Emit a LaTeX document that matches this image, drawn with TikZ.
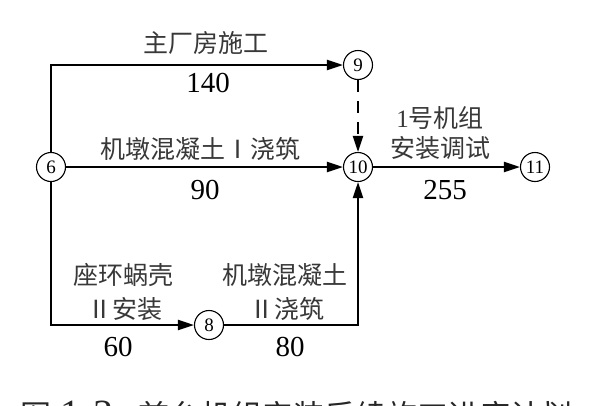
\documentclass[tikz,border=0pt]{standalone}
\usepackage{fontspec}
\setmainfont{Liberation Serif}
\newfontfamily\cjk{Noto Sans CJK SC}
\usetikzlibrary{arrows.meta}
\begin{document}
\begin{tikzpicture}[x=1pt,y=-1pt,
  ev/.style={circle,draw,line width=1.1pt,minimum size=29pt,inner sep=0pt,font=\fontsize{19}{19}\selectfont},
  lbl/.style={font=\cjk\fontsize{25}{32}\selectfont,text=black!78,align=center,inner sep=0pt},
  num/.style={font=\fontsize{29}{29}\selectfont,inner sep=0pt},
  captxt/.style={font=\cjk\fontsize{31}{31}\selectfont,text=black!85,inner sep=0pt},
  arr/.style={line width=2pt,-{Triangle[length=16pt,width=10pt]}},
  dsh/.style={line width=2pt,dash pattern=on 12pt off 9pt,-{Triangle[length=16pt,width=10pt]}}]
\fill[white] (0,0) rectangle (600,405);
\useasboundingbox (0,0) rectangle (600,405);
\clip (0,0) rectangle (600,405);
% events
\node[ev] (n6) at (51,167) {6};
\node[ev] (n9) at (358,65) {9};
\node[ev] (n10) at (358,167) {10};
\node[ev] (n11) at (535,167) {11};
\node[ev] (n8) at (209,325) {8};
% activities
\draw[arr] (n6.north) |- (n9);
\draw[arr] (n6) -- (n10);
\draw[arr] (n10) -- (n11);
\draw[dsh] (n9) -- (n10);
\draw[arr] (n6.south) |- (n8);
\draw[arr] (n8) -| (n10);
% labels
\node[lbl] (t1) at (206,43) {主厂房施工};
\node[num] (v1) at (208,83) {140};
\node[lbl] (t2) at (200,149) {机墩混凝土Ⅰ浇筑};
\node[num] (v2) at (205,190) {90};
\node[lbl] (t3) at (440,118) {{\fontspec{Liberation Serif}1}号机组};
\node[lbl] (t4) at (440,148) {安装调试};
\node[num] (v3) at (445,190) {255};
\node[lbl] (t5) at (123,275) {座环蜗壳};
\node[lbl] (t6) at (125,309) {Ⅱ安装};
\node[num] (v4) at (118,347) {60};
\node[lbl] (t7) at (285,275) {机墩混凝土};
\node[lbl] (t8) at (287,309) {Ⅱ浇筑};
\node[num] (v5) at (290,347) {80};
% caption (cut off at the bottom edge, as in the reference)
\node[captxt,anchor=base west] (capt) at (20,427) {图\hspace{9pt}{\fontspec{Liberation Serif}\fontsize{40}{40}\selectfont 1-3}\hspace{25pt}首台机组安装后续施工进度计划};
\end{tikzpicture}
\end{document}
